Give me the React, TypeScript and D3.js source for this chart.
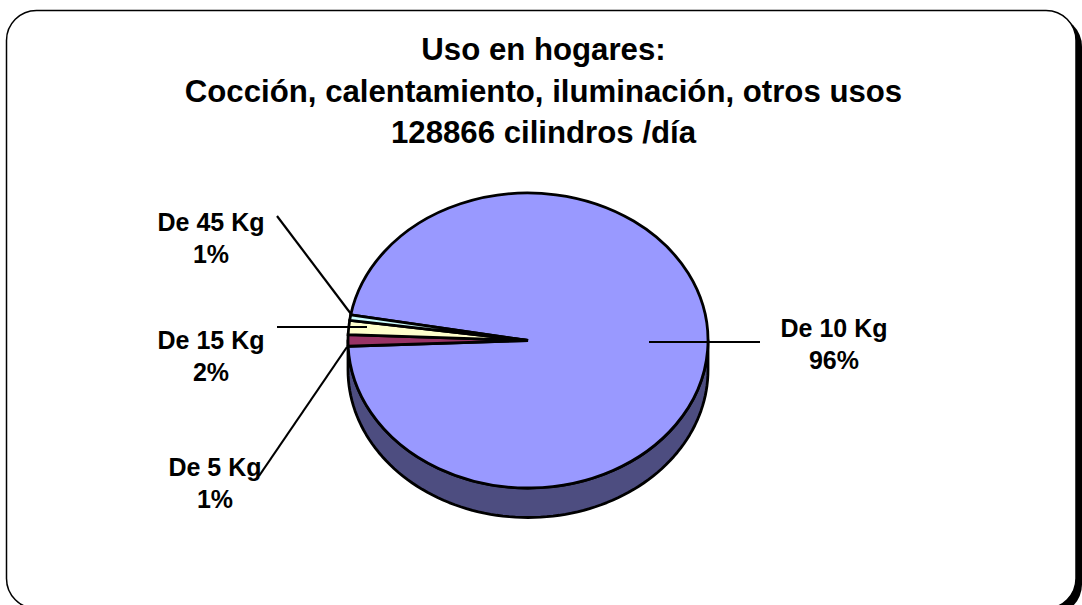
import React from "react";
import * as d3 from "d3";

const categories = ["De 10 Kg", "De 5 Kg", "De 15 Kg", "De 45 Kg"];
const values = [96.6, 1.25, 1.55, 0.6];
const percentLabels = ["96%", "1%", "2%", "1%"];
const sliceColors = ["#9999FF", "#993366", "#FFFFCC", "#CCFFFF"];
const titleLines = [
  "Uso en hogares:",
  "Cocción, calentamiento, iluminación, otros usos",
  "128866 cilindros /día",
];

const W = 1082;
const H = 605;
const cx = 528;
const cy = 340.5;
const rx = 180;
const ry = 147.5;
const depth = 29.5;
const startAngle = (-80 * Math.PI) / 180;

const labelLayout = [
  { x: 834, y: 337, line: [649, 342, 760, 342] },
  { x: 215, y: 476, line: [347, 347, 259, 476] },
  { x: 211, y: 349, line: [277, 327, 367, 327] },
  { x: 211, y: 231, line: [277, 216, 351, 314] },
];

export default function App() {
  const pie = d3
    .pie<number>()
    .sort(null)
    .startAngle(startAngle)
    .endAngle(startAngle + 2 * Math.PI);
  const arcs = pie(values);
  const arc = d3.arc<d3.PieArcDatum<number>>().innerRadius(0).outerRadius(rx);

  const sideAngles = d3.range(0, 181, 2).map((d) => (d * Math.PI) / 180);
  const side = d3
    .area<number>()
    .x((t) => cx + rx * Math.cos(t))
    .y0((t) => cy + ry * Math.sin(t))
    .y1((t) => cy + ry * Math.sin(t) + depth)(sideAngles);

  const frame = { x: 6.5, y: 10.5, w: 1069.5, h: 598, r: 30 };

  return (
    <svg
      width={W}
      height={H}
      viewBox={`0 0 ${W} ${H}`}
      style={{ position: "absolute", left: 0, top: 0, display: "block", background: "#fff" }}
      fontFamily="'Liberation Sans', Arial, sans-serif"
      fontWeight="bold"
    >
      <rect x={frame.x + 6} y={frame.y + 6} width={frame.w} height={frame.h} rx={frame.r} fill="#000" />
      <rect
        x={frame.x}
        y={frame.y}
        width={frame.w}
        height={frame.h}
        rx={frame.r}
        fill="#fff"
        stroke="#000"
        strokeWidth={1.5}
      />

      {titleLines.map((t, i) => (
        <text key={t} x={543.5} y={60 + i * 41.5} textAnchor="middle" fontSize={31.2}>
          {t}
        </text>
      ))}

      <path d={side ?? ""} fill="#4D4D80" stroke="#000" strokeWidth={2.8} strokeLinejoin="round" />
      <g transform={`translate(${cx},${cy}) scale(1,${ry / rx})`}>
        {arcs.map((a, i) => (
          <path
            key={categories[i]}
            d={arc(a) ?? ""}
            fill={sliceColors[i]}
            stroke="#000"
            strokeWidth={2.8}
            strokeLinejoin="miter"
            vectorEffect="non-scaling-stroke"
          />
        ))}
      </g>

      {categories.map((c, i) => {
        const l = labelLayout[i];
        return (
          <g key={c}>
            <line x1={l.line[0]} y1={l.line[1]} x2={l.line[2]} y2={l.line[3]} stroke="#000" strokeWidth={2.2} />
            <text x={l.x} y={l.y} textAnchor="middle" fontSize={25}>
              {c}
            </text>
            <text x={l.x} y={l.y + 32} textAnchor="middle" fontSize={25}>
              {percentLabels[i]}
            </text>
          </g>
        );
      })}
    </svg>
  );
}
